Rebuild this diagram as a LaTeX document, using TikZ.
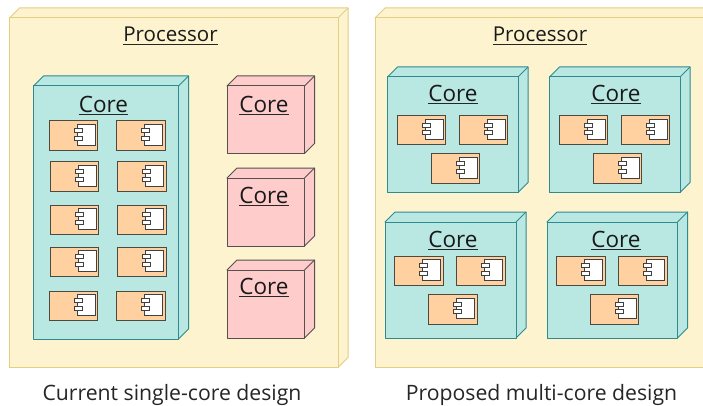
\documentclass[tikz,border=0pt]{standalone}
\usepackage{fontspec}
\setmainfont{Open Sans}
\definecolor{procfill}{HTML}{FDF3CF}
\definecolor{procline}{HTML}{E3CE82}
\definecolor{corefill}{HTML}{B9E8E2}
\definecolor{coreline}{HTML}{2F8A90}
\definecolor{pinkfill}{HTML}{FFCCCC}
\definecolor{pinkline}{HTML}{555050}
\definecolor{compfill}{HTML}{FFD1A0}
\definecolor{compline}{HTML}{4A4A40}
\tikzset{
  boxline/.style={line width=1pt,line join=round},
  lab/.style={font=\fontsize{20.5}{24}\selectfont,text=black!90,inner sep=0pt,anchor=base},
  corelab/.style={font=\fontsize{22.5}{24}\selectfont,text=black!90,inner sep=0pt,anchor=base},
  caption/.style={font=\fontsize{21.2}{24}\selectfont,text=black!85,inner sep=0pt,anchor=base},
  compbox/.style={fill=compfill,draw=compline,line width=1pt},
  iconbody/.style={fill=white,draw=black!75,line width=0.9pt},
  icontab/.style={fill=white,draw=black!75,line width=0.8pt}
}
% #1 left, #2 top, #3 right, #4 bottom, #5 depth, #6 fill, #7 line
\newcommand{\nodebox}[7]{
  \path[fill=#6,draw=#7,boxline] (#1,#2) -- (#1+#5,#2-#5) -- (#3+#5,#2-#5) -- (#3+#5,#4-#5) -- (#3,#4) -- cycle;
  \path[fill=#6,draw=#7,boxline] (#1,#2) rectangle (#3,#4);
  \path[draw=#7,boxline] (#3,#2) -- (#3+#5,#2-#5);
}
% #1 left, #2 top
\newcommand{\comp}[2]{
  \begin{scope}[shift={(#1,#2)}]
    \path[compbox] (0,0) rectangle (48.5,29.5);
    \path[iconbody] (28,3.5) rectangle (46,24);
    \path[icontab] (25,7.5) rectangle (33,11.5);
    \path[icontab] (25,15) rectangle (33,19);
  \end{scope}
}
% #1 name, #2 x, #3 baseline y, #4 text, #5 style
\newcommand{\ulabel}[5]{
  \node[#5] (#1) at (#2,#3) {#4};
  \draw[line width=1.1pt,black!85] (#1.west|-0,#3+2.2) -- (#1.east|-0,#3+2.2);
}
\begin{document}
\begin{tikzpicture}[x=1pt,y=-1pt]
\useasboundingbox (0,0) rectangle (703,406);
\fill[white] (0,0) rectangle (703,406);
% left processor
\nodebox{9.5}{18}{338}{367.5}{10}{procfill}{procline}
\ulabel{procA}{170.5}{42}{Processor}{lab}
% big core
\nodebox{33.5}{86}{178.5}{339}{10}{corefill}{coreline}
\ulabel{coreBig}{103.5}{112.5}{Core}{corelab}
\comp{49}{121}\comp{116.5}{121}
\comp{50}{162}\comp{117.5}{162}
\comp{50}{205}\comp{117.5}{205}
\comp{50}{247}\comp{117.5}{247}
\comp{49}{291}\comp{116.5}{291}
% pink cores
\nodebox{227}{86}{304.5}{153.5}{10}{pinkfill}{pinkline}
\ulabel{pinkA}{264}{112.5}{Core}{corelab}
\nodebox{227}{178}{304.5}{246}{10}{pinkfill}{pinkline}
\ulabel{pinkB}{264}{203.5}{Core}{corelab}
\nodebox{227}{270}{304.5}{338}{10}{pinkfill}{pinkline}
\ulabel{pinkC}{264}{294.5}{Core}{corelab}
% right processor
\nodebox{375}{18}{720}{367.5}{10}{procfill}{procline}
\ulabel{procB}{540}{42}{Processor}{lab}
% multi cores
\nodebox{387.5}{77}{518}{192.5}{10}{corefill}{coreline}
\ulabel{coreA}{453}{101.5}{Core}{corelab}
\comp{397}{115.5}\comp{459}{115.5}\comp{431}{154}
\nodebox{549.5}{77}{680}{192.5}{10}{corefill}{coreline}
\ulabel{coreB}{616}{101.5}{Core}{corelab}
\comp{559}{115.5}\comp{621}{115.5}\comp{593}{154}
\nodebox{385}{222}{516}{338}{10}{corefill}{coreline}
\ulabel{coreC}{453}{247}{Core}{corelab}
\comp{394.5}{256}\comp{456.5}{256}\comp{428.5}{294.5}
\nodebox{547}{222}{677.5}{338}{10}{corefill}{coreline}
\ulabel{coreD}{616}{247}{Core}{corelab}
\comp{556.5}{256}\comp{618.5}{256}\comp{590}{294.5}
% captions
\node[caption] (capA) at (172,400.3) {Current single-core design};
\node[caption] (capB) at (541.5,400.3) {Proposed multi-core design};
\end{tikzpicture}
\end{document}
